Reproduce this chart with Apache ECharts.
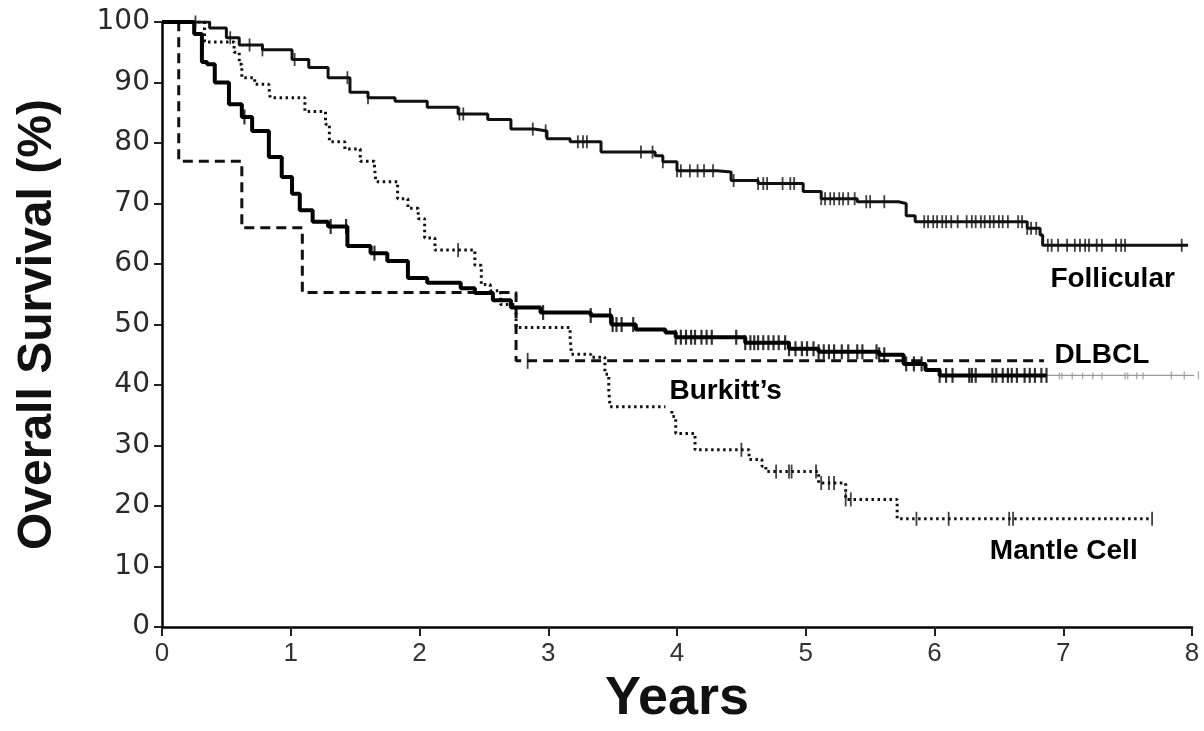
<!DOCTYPE html>
<html><head><meta charset="utf-8">
<script src="https://cdn.jsdelivr.net/npm/echarts@6/dist/echarts.min.js"></script>
<style>html,body{margin:0;padding:0;background:#fff}#c{width:1204px;height:731px}</style>
</head><body><div id="c"></div>
<script>
// ---- data (years, overall survival %) ----
const xTickValues = [0,1,2,3,4,5,6,7,8];
const yTickValues = [0,10,20,30,40,50,60,70,80,90,100];

const follicularT = [0,0.37,0.5,0.6,0.78,1.01,1.14,1.29,1.46,1.6,1.81,2.06,2.3,2.53,2.71,2.89,2.99,3.17,3.41,3.83,3.89,4.0,4.31,4.42,4.63,4.98,5.12,5.4,5.72,5.78,5.85,6.72,6.82,6.84,7.97];
const follicularS = [100,99,97.4,96.2,95.4,93.8,92.5,90.8,88.4,87.5,86.9,85.9,84.8,83.9,82.3,82,80.7,80.2,78.5,77.9,76.9,75.4,75.2,73.8,73.3,72,70.8,70.3,70,68,67,65.9,64.8,63.1,63.1];
const follicularCensor = [0.26,0.53,0.68,0.78,1.03,1.44,1.6,2.31,2.34,2.88,2.98,3.23,3.27,3.3,3.72,3.81,3.89,4.0,4.03,4.1,4.16,4.21,4.28,4.44,4.63,4.67,4.7,4.82,4.88,4.91,5.12,5.15,5.19,5.22,5.26,5.29,5.33,5.38,5.47,5.5,5.61,5.92,5.95,5.99,6.02,6.06,6.09,6.13,6.18,6.25,6.29,6.32,6.36,6.39,6.43,6.46,6.5,6.53,6.57,6.65,6.68,6.72,6.75,6.79,6.88,6.91,6.96,7.03,7.09,7.13,7.17,7.2,7.26,7.3,7.41,7.45,7.48,7.92];

const dlbclT = [0,0.25,0.31,0.35,0.41,0.52,0.62,0.7,0.83,0.93,1.01,1.07,1.17,1.29,1.44,1.62,1.75,1.91,2.06,2.32,2.43,2.57,2.71,2.94,3.33,3.49,3.68,3.91,3.99,4.53,4.87,5.1,5.57,5.76,5.93,6.04,8.09];
const dlbclS = [100,98,93.4,93,90,86.4,84.3,82,77.7,74.4,71.6,68.9,67,66.2,63,61.8,60.5,57.7,56.9,56,55.2,54,52.8,52,51.5,50,49.2,48.7,47.9,47,46,45.5,45,43.5,42.5,41.6,41.6];
const dlbclCensor = [0.64,1.31,1.43,1.65,2.96,3.33,3.48,3.5,3.53,3.57,3.66,3.99,4.03,4.07,4.11,4.14,4.19,4.23,4.27,4.46,4.53,4.57,4.6,4.63,4.67,4.71,4.75,4.79,4.84,4.87,4.92,4.97,5.01,5.06,5.1,5.14,5.18,5.22,5.28,5.33,5.4,5.44,5.55,5.57,5.61,5.78,5.84,5.9,6.04,6.09,6.14,6.27,6.29,6.32,6.45,6.48,6.53,6.57,6.6,6.64,6.7,6.74,6.78,6.83,6.87];
const dlbclFaintCensor = [6.97,6.99,7.07,7.15,7.23,7.3,7.48,7.5,7.57,7.62,7.84,7.94,8.05];
const dlbclFadeFrom = 6.87;

const burkittT = [0,0.13,0.62,1.09,2.75,6.85];
const burkittS = [100,77,66,55.3,44,44];
const burkittCensor = [2.84];

const mantleT = [0,0.33,0.56,0.6,0.62,0.72,0.83,0.84,1.11,1.27,1.3,1.42,1.54,1.65,1.66,1.83,1.91,1.99,2.04,2.12,2.43,2.48,2.55,2.63,2.75,3.17,3.18,3.33,3.44,3.47,3.48,3.96,3.99,4.14,4.56,4.66,4.69,5.1,5.31,5.71,7.69];
const mantleS = [100,96.7,95,93,90.8,89.7,89.2,87.5,85.2,83.1,80.2,79,77,76.2,73.6,70.8,69.2,67.5,64.3,62.3,59.8,56.6,55.6,53.3,49.5,47.9,45.1,44.6,41.8,39.2,36.4,34.8,32,29.3,27.7,26.6,25.7,23.8,21.1,17.9,17.9];
const mantleCensor = [2.3,4.5,4.77,4.87,4.89,5.08,5.12,5.18,5.22,5.31,5.35,5.86,6.11,6.58,6.61,7.69];

const curveLabels = [
  {text:'Follicular', x:6.9, y:57.4, bg:false},
  {text:'DLBCL', x:6.9, y:44.9, bg:true},
  {text:'Burkitt\u2019s', x:3.91, y:38.9, bg:true},
  {text:'Mantle Cell', x:6.43, y:12.6, bg:false}
];

// ---- helpers ----
function pts(T,S){ return T.map((t,i)=>[t,S[i]]); }
function valueAt(T,S,t){ let v=S[0]; for(let i=0;i<T.length;i++){ if(T[i]<=t) v=S[i]; } return v; }
function censorPts(T,S,C){ return C.map(t=>[t,valueAt(T,S,t)]); }

const dlbclMain = pts(dlbclT,dlbclS).filter(p=>p[0]<dlbclFadeFrom);
dlbclMain.push([dlbclFadeFrom, valueAt(dlbclT,dlbclS,dlbclFadeFrom)]);
const dlbclTail = [[dlbclFadeFrom, valueAt(dlbclT,dlbclS,dlbclFadeFrom)], [dlbclT[dlbclT.length-1], dlbclS[dlbclS.length-1]]];

function lineSeries(name,data,style,extra){
  return Object.assign({type:'line', name, data, step:'end', showSymbol:false, symbol:'none',
    lineStyle:style, silent:true, animation:false, z:3}, extra||{});
}
function censorSeries(data,color,size){
  return {type:'scatter', data, symbol:'rect', symbolSize:size, itemStyle:{color}, silent:true, animation:false, z:4, clip:false};
}

const chart = echarts.init(document.getElementById('c'), null, {renderer:'canvas'});
const option = {
  backgroundColor:'#fff',
  animation:false,
  grid:{left:162, right:12, top:22, bottom:99, containLabel:false},
  xAxis:{type:'value', min:xTickValues[0], max:xTickValues[xTickValues.length-1], interval:1,
    axisLine:{show:true, onZero:false, lineStyle:{color:'#000', width:2.5}},
    axisTick:{show:true, length:9, lineStyle:{color:'#222', width:2}},
    axisLabel:{color:'#333', fontSize:26, fontFamily:'Liberation Sans Narrow, Liberation Sans, sans-serif', margin:14,
      formatter:v=>xTickValues.includes(v)?String(v):''},
    splitLine:{show:false},
    name:'Years', nameLocation:'middle', nameGap:20,
    nameTextStyle:{fontSize:54, fontWeight:'bold', color:'#111', fontFamily:'Liberation Sans, Arial, sans-serif', verticalAlign:'top'}
  },
  yAxis:{type:'value', min:yTickValues[0], max:yTickValues[yTickValues.length-1], interval:10,
    axisLine:{show:true, onZero:false, lineStyle:{color:'#000', width:2.5}},
    axisTick:{show:true, length:8, lineStyle:{color:'#222', width:2}},
    axisLabel:{color:'#2a2a2a', fontSize:28, fontFamily:'DejaVu Sans, sans-serif', margin:12,
      formatter:v=>yTickValues.includes(v)?String(v):''},
    splitLine:{show:false},
    name:'Overall Survival (%)', nameLocation:'middle', nameGap:100, nameRotate:90,
    nameTextStyle:{fontSize:48, fontWeight:'bold', color:'#111', fontFamily:'Liberation Sans, Arial, sans-serif'}
  },
  series:[
    lineSeries('Burkitt\u2019s', pts(burkittT,burkittS), {color:'#111', width:3, type:[10,6], cap:'butt'}),
    lineSeries('Mantle Cell', pts(mantleT,mantleS), {color:'#111', width:3, type:[2.5,3.5], cap:'butt'}),
    lineSeries('Follicular', pts(follicularT,follicularS), {color:'#111', width:3}),
    lineSeries('DLBCL', dlbclMain, {color:'#000', width:4}),
    lineSeries('DLBCL tail', dlbclTail, {color:'#999', width:1.2}, {clip:false}),
    censorSeries(censorPts(follicularT,follicularS,follicularCensor), '#111', [1.8,13]),
    censorSeries(censorPts(dlbclT,dlbclS,dlbclCensor), '#000', [2.2,15]),
    censorSeries(censorPts(dlbclT,dlbclS,dlbclFaintCensor), '#999', [1.4,8]),
    censorSeries(censorPts(burkittT,burkittS,burkittCensor), '#111', [1.8,16]),
    censorSeries(censorPts(mantleT,mantleS,mantleCensor), '#111', [1.8,14])
  ]
};
chart.setOption(option);

const graphics = curveLabels.map(l=>{
  const p = chart.convertToPixel({gridIndex:0}, [l.x, l.y]);
  return {type:'text', x:p[0], y:p[1], z:10,
    style:{text:l.text, fill:'#000', font:'bold 28px "Liberation Sans", Arial, sans-serif',
      textVerticalAlign:'middle', verticalAlign:'middle',
      backgroundColor: l.bg ? '#fff' : null, padding: l.bg ? [3,4,3,4] : 0}};
});
chart.setOption({graphic:graphics});
</script>
</body></html>
